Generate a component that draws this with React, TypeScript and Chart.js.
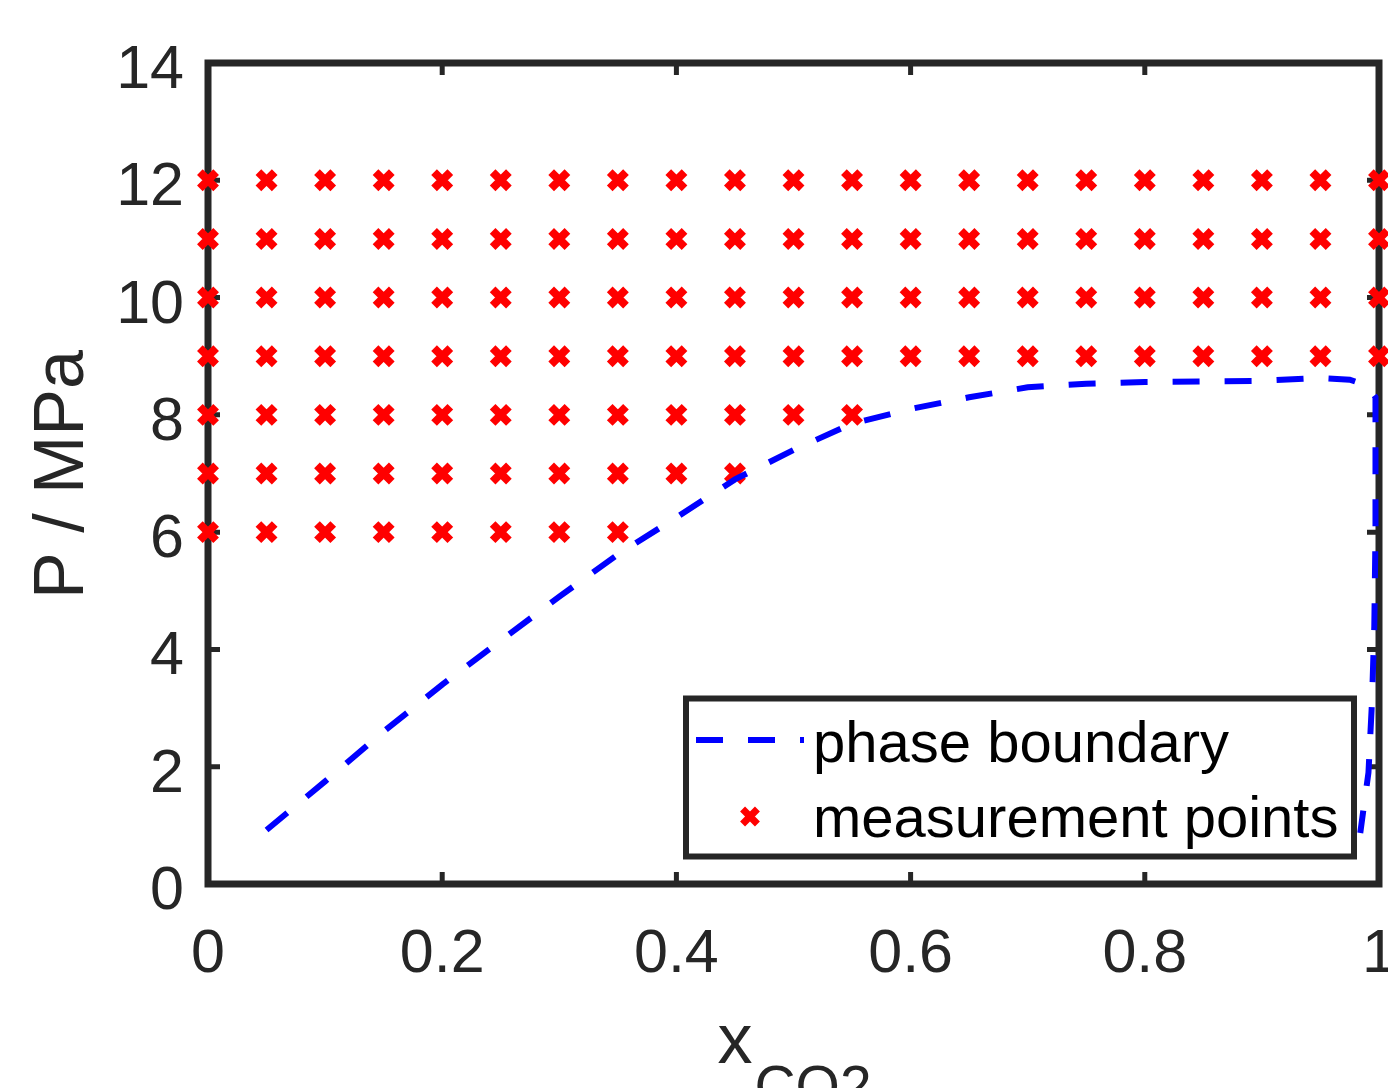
import React, { useEffect, useRef } from 'react';
import { Chart, registerables } from 'chart.js';

Chart.register(...registerables);

// ---- data ----
const compositionGrid = [0, 0.05, 0.1, 0.15, 0.2, 0.25, 0.3, 0.35, 0.4, 0.45, 0.5, 0.55, 0.6, 0.65, 0.7, 0.75, 0.8, 0.85, 0.9, 0.95, 1];
const pressureLevels = [6, 7, 8, 9, 10, 11, 12];
const maxCompositionAtLevel = [0.35, 0.45, 0.55, 1, 1, 1, 1];

const boundaryX = [0.05, 0.1, 0.15, 0.2, 0.25, 0.3, 0.35, 0.4, 0.45, 0.5, 0.55, 0.6, 0.65, 0.7, 0.75, 0.8, 0.85, 0.9, 0.95, 0.975, 0.99, 0.997, 0.997, 0.996, 0.994, 0.991, 0.984];
const boundaryY = [0.92, 1.75, 2.6, 3.4, 4.15, 4.9, 5.62, 6.25, 6.9, 7.4, 7.85, 8.1, 8.3, 8.47, 8.53, 8.56, 8.57, 8.58, 8.63, 8.6, 8.5, 8.3, 6.0, 4.4, 3.1, 1.9, 0.87];

const xTickValues = [0, 0.2, 0.4, 0.6, 0.8, 1];
const xTickLabels = ['0', '0.2', '0.4', '0.6', '0.8', '1'];
const yTickValues = [0, 2, 4, 6, 8, 10, 12, 14];
const yTickLabels = ['0', '2', '4', '6', '8', '10', '12', '14'];

const seriesNames = ['phase boundary', 'measurement points'];
const xTitleMain = 'x';
const xTitleSub = 'CO2';
const yTitle = 'P / MPa';

const AXIS_COLOR = '#262626';
const LINE_COLOR = '#0000ff';
const MARKER_COLOR = '#ff0000';
const FONT = '"Liberation Sans", Arial, Helvetica, sans-serif';
const DASH = [27, 25];

function drawCross(ctx: CanvasRenderingContext2D, x: number, y: number, r: number, lw: number) {
  const d = r * Math.SQRT1_2;
  ctx.save();
  ctx.strokeStyle = MARKER_COLOR;
  ctx.lineWidth = lw;
  ctx.lineCap = 'butt';
  ctx.beginPath();
  ctx.moveTo(x - d, y - d);
  ctx.lineTo(x + d, y + d);
  ctx.moveTo(x - d, y + d);
  ctx.lineTo(x + d, y - d);
  ctx.stroke();
  ctx.restore();
}

const matlabAxesPlugin = {
  id: 'matlabAxes',
  beforeDatasetsDraw(chart: any) {
    const ctx: CanvasRenderingContext2D = chart.ctx;
    const { left, right, top, bottom } = chart.chartArea;
    const xs = chart.scales.x;
    const ys = chart.scales.y;
    ctx.save();
    ctx.strokeStyle = AXIS_COLOR;
    ctx.lineWidth = 5;
    const tl = 12;
    ctx.beginPath();
    xTickValues.forEach((v) => {
      const px = xs.getPixelForValue(v);
      ctx.moveTo(px, bottom);
      ctx.lineTo(px, bottom - tl);
      ctx.moveTo(px, top);
      ctx.lineTo(px, top + tl);
    });
    yTickValues.forEach((v) => {
      const py = ys.getPixelForValue(v);
      ctx.moveTo(left, py);
      ctx.lineTo(left + tl, py);
      ctx.moveTo(right, py);
      ctx.lineTo(right - tl, py);
    });
    ctx.stroke();
    ctx.lineWidth = 7;
    ctx.lineJoin = 'miter';
    ctx.strokeRect(left, top, right - left, bottom - top);

    // tick labels
    ctx.fillStyle = AXIS_COLOR;
    ctx.font = `61px ${FONT}`;
    ctx.textBaseline = 'alphabetic';
    ctx.textAlign = 'center';
    xTickValues.forEach((v, i) => {
      ctx.fillText(xTickLabels[i], xs.getPixelForValue(v), bottom + 88);
    });
    ctx.textAlign = 'right';
    yTickValues.forEach((v, i) => {
      ctx.fillText(yTickLabels[i], left - 24, ys.getPixelForValue(v) + 25);
    });

    // y title
    ctx.save();
    ctx.font = `70px ${FONT}`;
    ctx.translate(83, (top + bottom) / 2 + 1);
    ctx.rotate(-Math.PI / 2);
    ctx.textAlign = 'center';
    ctx.fillText(yTitle, 0, 0);
    ctx.restore();

    // x title with subscript
    ctx.textAlign = 'left';
    ctx.font = `70px ${FONT}`;
    const wMain = ctx.measureText(xTitleMain).width;
    ctx.font = `57px ${FONT}`;
    const wSub = ctx.measureText(xTitleSub).width;
    const cx = (left + right) / 2;
    const sx = cx - (wMain + wSub) / 2;
    ctx.font = `70px ${FONT}`;
    ctx.fillText(xTitleMain, sx, bottom + 179);
    ctx.font = `57px ${FONT}`;
    ctx.fillText(xTitleSub, sx + wMain + 2, bottom + 222);
    ctx.restore();
  },
  afterDatasetsDraw(chart: any) {
    const ctx: CanvasRenderingContext2D = chart.ctx;
    const { right, bottom } = chart.chartArea;
    const bx1 = right - 25;
    const by1 = bottom - 27.5;
    const bx0 = bx1 - 668;
    const by0 = by1 - 158;
    ctx.save();
    ctx.fillStyle = '#ffffff';
    ctx.fillRect(bx0, by0, bx1 - bx0, by1 - by0);
    ctx.strokeStyle = AXIS_COLOR;
    ctx.lineWidth = 6;
    ctx.strokeRect(bx0, by0, bx1 - bx0, by1 - by0);

    // row 1: dashed line
    ctx.strokeStyle = LINE_COLOR;
    ctx.lineWidth = 6;
    ctx.lineCap = 'butt';
    ctx.setLineDash(DASH);
    ctx.beginPath();
    ctx.moveTo(bx0 + 10, by0 + 41.5);
    ctx.lineTo(bx0 + 118, by0 + 41.5);
    ctx.stroke();
    ctx.setLineDash([]);

    // row 2: marker
    drawCross(ctx, bx0 + 64, by0 + 118, 10.5, 7);

    ctx.fillStyle = '#000000';
    ctx.font = `58px ${FONT}`;
    ctx.textAlign = 'left';
    ctx.textBaseline = 'alphabetic';
    ctx.fillText(seriesNames[0], bx0 + 127, by0 + 63.5);
    ctx.fillText(seriesNames[1], bx0 + 127, by0 + 138.5);
    ctx.restore();
  },
};

export default function App() {
  const canvasRef = useRef<HTMLCanvasElement | null>(null);

  useEffect(() => {
    if (!canvasRef.current) return;
    const boundaryData = boundaryX.map((x, i) => ({ x, y: boundaryY[i] }));
    const measurementData: { x: number; y: number }[] = [];
    pressureLevels.forEach((p, j) => {
      compositionGrid.forEach((c) => {
        if (c <= maxCompositionAtLevel[j] + 1e-9) measurementData.push({ x: c, y: p });
      });
    });

    const chart = new Chart(canvasRef.current, {
      type: 'scatter',
      data: {
        datasets: [
          {
            label: seriesNames[0],
            data: boundaryData,
            showLine: true,
            borderColor: LINE_COLOR,
            backgroundColor: LINE_COLOR,
            borderWidth: 6,
            borderDash: DASH,
            borderCapStyle: 'butt',
            pointRadius: 0,
            tension: 0,
            clip: false,
          } as any,
          {
            label: seriesNames[1],
            data: measurementData,
            showLine: false,
            pointStyle: 'crossRot',
            pointRadius: 11.5,
            pointBorderWidth: 8,
            borderWidth: 8,
            borderColor: MARKER_COLOR,
            backgroundColor: MARKER_COLOR,
            clip: false,
          } as any,
        ],
      },
      options: {
        responsive: false,
        animation: false,
        events: [],
        layout: { autoPadding: false, padding: { top: 63, right: 9, left: 0, bottom: 0 } },
        plugins: {
          legend: { display: false },
          tooltip: { enabled: false },
        },
        scales: {
          x: {
            type: 'linear',
            min: 0,
            max: 1,
            grid: { display: false },
            border: { display: false },
            ticks: { display: false },
            afterFit: (s: any) => {
              s.height = 204;
            },
          },
          y: {
            type: 'linear',
            min: 0,
            max: 14,
            grid: { display: false },
            border: { display: false },
            ticks: { display: false },
            afterFit: (s: any) => {
              s.width = 208;
            },
          },
        },
      } as any,
      plugins: [matlabAxesPlugin],
    });

    return () => {
      chart.destroy();
    };
  }, []);

  return (
    <div style={{ position: 'absolute', left: 0, top: 0, width: 1388, height: 1088, background: '#ffffff' }}>
      <canvas ref={canvasRef} width={1388} height={1088} />
    </div>
  );
}
